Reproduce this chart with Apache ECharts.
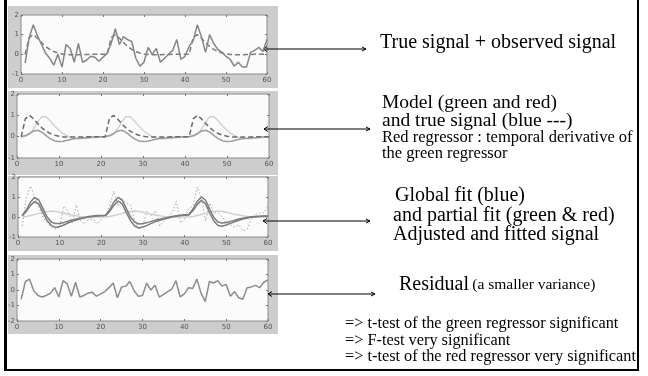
<!DOCTYPE html>
<html><head><meta charset="utf-8">
<script src="https://cdn.jsdelivr.net/npm/echarts@6/dist/echarts.min.js"></script>
<style>html,body{margin:0;padding:0;background:#fff}#c{width:648px;height:376px}</style>
</head><body><div id="c"></div>
<script>
// time points (scans 1..60)
const xs = Array.from({length: 60}, (_, i) => i + 1);
const xTicks = [0, 10, 20, 30, 40, 50, 60];

// Panel 1: observed signal (solid) and true signal (dashed)
const observed = [-0.45,0.85,1.5,0.95,0.5,0.05,-0.2,-0.55,0.0,-0.65,0.5,0.3,-0.4,0.55,-0.4,-0.3,-0.1,-0.15,-0.35,-0.15,
  0.05,0.55,1.3,0.5,0.9,0.75,0.65,-0.2,-0.6,-0.4,0.35,0.0,0.3,-0.4,-0.2,0.0,0.2,0.75,-0.25,-0.1,
  0.4,0.7,1.5,0.9,0.1,1.0,0.55,0.25,0.1,-0.1,-0.25,-0.6,-0.4,-0.65,-0.65,0.1,0.2,0.35,0.15,0.75];
const trueSignal = [0,0.85,1.0,0.82,0.6,0.4,0.25,0.14,0.07,0.02,-0.01,-0.02,-0.02,-0.02,-0.01,-0.01,0,0,0,0,
  0,0.85,1.0,0.82,0.6,0.4,0.25,0.14,0.07,0.02,-0.01,-0.02,-0.02,-0.02,-0.01,-0.01,0,0,0,0,
  0,0.85,1.0,0.82,0.6,0.4,0.25,0.14,0.07,0.02,-0.01,-0.02,-0.02,-0.02,-0.01,-0.01,0,0,0,0];

// Panel 2: model regressors
const greenRegressor = [0,0.02,0.12,0.38,0.72,0.95,0.92,0.72,0.5,0.3,0.14,0.03,-0.05,-0.09,-0.1,-0.09,-0.07,-0.05,-0.03,-0.01,
  0,0.02,0.12,0.38,0.72,0.95,0.92,0.72,0.5,0.3,0.14,0.03,-0.05,-0.09,-0.1,-0.09,-0.07,-0.05,-0.03,-0.01,
  0,0.02,0.12,0.38,0.72,0.95,0.92,0.72,0.5,0.3,0.14,0.03,-0.05,-0.09,-0.1,-0.09,-0.07,-0.05,-0.03,-0.01];
const redRegressor = [0,0.05,0.15,0.27,0.3,0.2,0.04,-0.1,-0.2,-0.23,-0.21,-0.17,-0.12,-0.09,-0.07,-0.05,-0.04,-0.02,-0.01,0,
  0,0.05,0.15,0.27,0.3,0.2,0.04,-0.1,-0.2,-0.23,-0.21,-0.17,-0.12,-0.09,-0.07,-0.05,-0.04,-0.02,-0.01,0,
  0,0.05,0.15,0.27,0.3,0.2,0.04,-0.1,-0.2,-0.23,-0.21,-0.17,-0.12,-0.09,-0.07,-0.05,-0.04,-0.02,-0.01,0];

// Panel 3: adjusted signal (dotted), partial fits and global fit
const adjusted = [-0.45,1.0,1.55,1.0,0.5,0.0,-0.3,-0.5,-0.6,-0.5,0.55,0.3,-0.3,0.6,-0.2,-0.35,-0.1,-0.1,-0.35,-0.1,
  0.1,0.55,1.3,0.55,0.9,0.7,0.6,-0.2,-0.6,-0.35,0.3,0.05,0.3,-0.45,-0.2,0.0,0.2,0.8,-0.3,-0.1,
  0.4,0.55,1.5,1.0,-0.2,0.7,0.2,0.2,0.0,-0.3,-0.4,-0.5,-0.4,-0.7,-0.6,-0.1,0.13,0.2,0.2,0.55];
const greenFit = [0,0.03,0.07,0.12,0.18,0.24,0.28,0.3,0.28,0.24,0.19,0.14,0.1,0.06,0.03,0.01,0,0,0,0,
  0,0.03,0.07,0.12,0.18,0.24,0.28,0.3,0.28,0.24,0.19,0.14,0.1,0.06,0.03,0.01,0,0,0,0,
  0,0.03,0.07,0.12,0.18,0.24,0.28,0.3,0.28,0.24,0.19,0.14,0.1,0.06,0.03,0.01,0,0,0,0];
const globalFit = [0.08,0.35,0.75,0.97,0.85,0.42,0.0,-0.25,-0.33,-0.32,-0.27,-0.21,-0.15,-0.1,-0.06,-0.02,0.02,0.05,0.07,0.08,
  0.09,0.35,0.75,0.98,0.85,0.42,0.0,-0.25,-0.35,-0.33,-0.28,-0.22,-0.16,-0.11,-0.06,-0.02,0.02,0.06,0.09,0.11,
  0.13,0.4,0.78,1.0,0.85,0.4,-0.02,-0.25,-0.3,-0.27,-0.22,-0.16,-0.1,-0.06,-0.02,0.01,0.03,0.04,0.05,0.05];
const redFit = [0.06,0.28,0.58,0.77,0.65,0.22,-0.18,-0.43,-0.52,-0.48,-0.4,-0.3,-0.22,-0.15,-0.09,-0.04,0,0.03,0.05,0.06,
  0.07,0.28,0.58,0.8,0.66,0.22,-0.18,-0.45,-0.55,-0.5,-0.42,-0.32,-0.23,-0.16,-0.1,-0.05,0,0.04,0.07,0.09,
  0.1,0.32,0.62,0.83,0.67,0.2,-0.2,-0.42,-0.46,-0.4,-0.32,-0.24,-0.16,-0.1,-0.05,-0.01,0.01,0.03,0.04,0.04];

// Panel 4: residual
const residual = [-0.6,0.55,0.7,-0.05,-0.35,-0.45,-0.35,-0.2,0.15,-0.45,0.6,0.4,-0.4,0.5,-0.45,-0.35,-0.2,-0.15,-0.4,-0.25,
  -0.1,0.15,0.45,-0.5,0.2,0.25,0.55,-0.05,-0.4,-0.35,0.45,0.0,0.3,-0.45,-0.3,-0.1,0.05,0.6,-0.45,-0.25,
  0.15,0.1,0.7,-0.2,-0.75,0.55,0.45,0.6,0.25,0.35,-0.4,-0.1,-0.5,-0.6,0.15,0.2,0.3,0.15,0.5,0.65];

// y ranges per panel
const yRanges = [[-1, 2], [-1, 2], [-1, 2], [-2, 2]];

const pairs = arr => arr.map((v, i) => [xs[i], v]);

const grids = [
  {left: 21, top: 15, width: 246, height: 59},
  {left: 17, top: 94, width: 252, height: 64},
  {left: 18, top: 177, width: 250, height: 60},
  {left: 17, top: 259, width: 251, height: 62}
].map(g => Object.assign(g, {show: true, backgroundColor: '#fbfbfb', borderColor: '#8c8c8c', borderWidth: 1}));

const xAxes = [], yAxes = [];
grids.forEach((g, i) => {
  const tick = {show: true, inside: true, length: 2, lineStyle: {color: '#777'}};
  const noLine = {show: false, onZero: false};
  const lab = {fontSize: 7, color: '#555', margin: 2, fontFamily: 'DejaVu Sans'};
  xAxes.push({type: 'value', gridIndex: i, min: 0, max: 60, interval: 10, position: 'bottom',
    axisLine: noLine, splitLine: {show: false}, axisTick: tick, axisLabel: Object.assign({}, lab, {margin: 3})});
  xAxes.push({type: 'value', gridIndex: i, min: 0, max: 60, interval: 10, position: 'top',
    axisLine: noLine, splitLine: {show: false}, axisTick: tick, axisLabel: {show: false}});
  yAxes.push({type: 'value', gridIndex: i, min: yRanges[i][0], max: yRanges[i][1], interval: 1, position: 'left',
    axisLine: noLine, splitLine: {show: false}, axisTick: tick, axisLabel: lab});
  yAxes.push({type: 'value', gridIndex: i, min: yRanges[i][0], max: yRanges[i][1], interval: 1, position: 'right',
    axisLine: noLine, splitLine: {show: false}, axisTick: tick, axisLabel: {show: false}});
});

function line(data, gi, color, width, type, z) {
  return {type: 'line', xAxisIndex: gi * 2, yAxisIndex: gi * 2, data: pairs(data), symbol: 'none',
    silent: true, animation: false, z: z || 2,
    lineStyle: {color: color, width: width, type: type || 'solid'}};
}

const series = [
  line(trueSignal, 0, '#7a7a7a', 1.5, [5, 3]),
  line(observed, 0, '#858585', 1.5),
  line(greenRegressor, 1, '#d2d2d2', 1.5),
  line(redRegressor, 1, '#9c9c9c', 1.5),
  line(trueSignal, 1, '#6a6a6a', 1.5, [5, 3]),
  line(adjusted, 2, '#a8a8a8', 1, [1.5, 2]),
  line(greenFit, 2, '#d0d0d0', 1.5),
  line(redFit, 2, '#7c7c7c', 1.5),
  line(globalFit, 2, '#7c7c7c', 1.5),
  line(residual, 3, '#8c8c8c', 1.5)
];

// slide decorations
const serif = 'Liberation Serif, Times New Roman, serif';
function txt(t, x, y, size) {
  return {type: 'text', style: {text: t, x: x, y: y, fill: '#000', font: size + 'px ' + serif, textVerticalAlign: 'middle'}};
}
function arrow(x1, x2, y) {
  return [
    {type: 'line', shape: {x1: x1, y1: y, x2: x2, y2: y}, style: {stroke: '#000', lineWidth: 1}},
    {type: 'polyline', shape: {points: [[x1 + 4, y - 2.5], [x1, y], [x1 + 4, y + 2.5]]}, style: {stroke: '#000', lineWidth: 1, fill: null}},
    {type: 'polyline', shape: {points: [[x2 - 4, y - 2], [x2, y], [x2 - 4, y + 2]]}, style: {stroke: '#000', lineWidth: 1, fill: null}}
  ];
}
const panelRects = [[8, 6, 270, 82], [8, 91, 270, 84], [8, 176, 270, 75], [8, 255, 270, 79]];
const graphic = [];
panelRects.forEach(r => graphic.push({type: 'rect', z: -10, shape: {x: r[0], y: r[1], width: r[2], height: r[3]}, style: {fill: '#cdcdcd'}}));
graphic.push({type: 'rect', shape: {x: 4, y: 0, width: 3, height: 371}, style: {fill: '#000'}});
graphic.push({type: 'rect', shape: {x: 637, y: 0, width: 2, height: 371}, style: {fill: '#000'}});
graphic.push({type: 'rect', shape: {x: 4, y: 369, width: 635, height: 2}, style: {fill: '#000'}});
graphic.push(...arrow(263, 366, 49), ...arrow(264, 370, 129), ...arrow(263, 370, 221), ...arrow(268, 375, 294));
graphic.push(
  txt('True signal + observed signal', 380, 43, 20),
  txt('Model (green and red)', 382, 103, 19.5),
  txt('and true signal (blue ---)', 382, 121, 19.5),
  txt('Red regressor : temporal derivative of', 382, 138, 16.5),
  txt('the green regressor', 382, 154, 16.5),
  txt('Global fit (blue)', 395, 196, 20),
  txt('and partial fit (green & red)', 393, 216, 20),
  txt('Adjusted and fitted signal', 393, 235, 20),
  {type: 'text', style: {x: 399, y: 285, textVerticalAlign: 'middle', fill: '#000',
    text: '{a|Residual} {b|(a smaller variance)}',
    rich: {a: {fontSize: 20, fontFamily: serif, fill: '#000'}, b: {fontSize: 15.5, fontFamily: serif, fill: '#000'}}}},
  txt('=> t-test of the green regressor significant', 345, 324, 16.3),
  txt('=> F-test very significant', 345, 341, 16.3),
  txt('=> t-test of the red regressor very significant', 345, 357, 16.3)
);

const chart = echarts.init(document.getElementById('c'), null, {renderer: 'canvas'});
chart.setOption({animation: false, backgroundColor: '#fff', grid: grids, xAxis: xAxes, yAxis: yAxes, series: series, graphic: graphic});
</script></body></html>
